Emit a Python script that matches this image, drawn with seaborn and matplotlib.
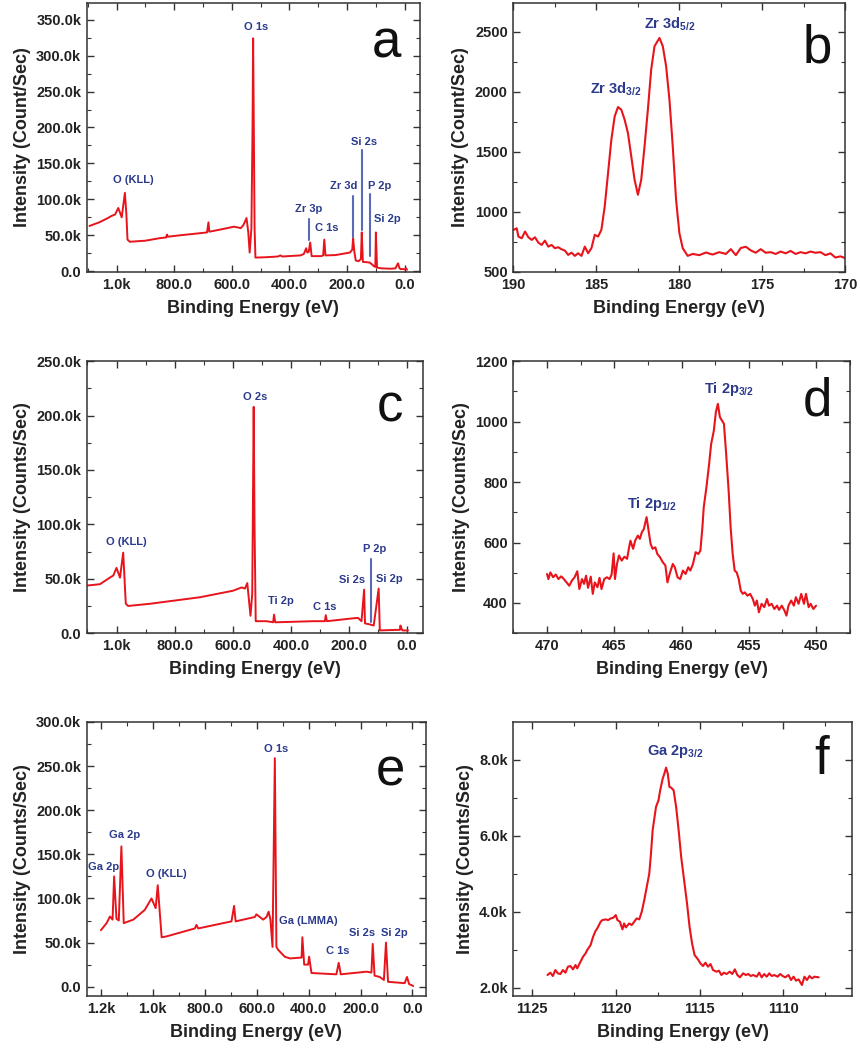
"""
XPS spectra: survey scans (a, c, e) and high-resolution core levels (b, d, f)
"""

import numpy as np
import pandas as pd
import matplotlib
matplotlib.use('Agg')
import matplotlib.pyplot as plt
from matplotlib.ticker import MultipleLocator, AutoMinorLocator, FuncFormatter
import seaborn as sns

# ============================================================
# 0. data
# ============================================================
# (a) survey, Zr sample
a_energy = [1094, 1060, 1030, 1017, 1005, 994, 982, 971, 966, 962, 954, 900, 850, 828, 825,
            822, 780, 720, 686, 681, 678, 640, 592, 569, 560, 549, 543, 538, 532, 528,
            526, 524, 521, 518, 480, 440, 431, 425, 362, 350, 342, 338, 333, 328, 323,
            290, 283, 279, 275, 240, 190, 182, 179, 175, 170, 160, 152, 149, 145, 130,
            121, 112, 107, 102, 100, 96, 80, 50, 32, 26, 23, 19, 15, 5, 0, -5, -8]
a_counts = [63, 68, 74, 77, 79, 88, 75, 109, 80, 44, 41, 42.5, 46, 47, 51,
            48, 50, 52.5, 54, 68, 55, 58, 62, 60, 64, 74, 55, 26, 60, 200,
            324, 220, 60, 19, 19.5, 20.5, 22, 20.5, 22, 24, 32, 26, 27, 40, 21,
            21, 22, 44, 22, 22.5, 26, 30, 46, 28, 15, 14, 17, 54, 13, 12.5,
            12, 9, 7, 6, 54, 5, 4, 3.5, 4, 9, 11, 5, 3, 3, 2.5, 4, 2]
a_counts = [v * 1000 for v in a_counts]

# (b) Zr 3d
b_energy = [190.0, 189.8, 189.7, 189.5, 189.3, 189.1, 188.9, 188.7, 188.5, 188.3, 188.1, 187.9,
            187.7, 187.5, 187.3, 187.1, 186.9, 186.7, 186.5, 186.3, 186.1, 185.9, 185.7, 185.5,
            185.3, 185.1, 184.9, 184.7, 184.5, 184.3, 184.1, 183.9, 183.7, 183.5, 183.3, 183.1,
            182.9, 182.7, 182.5, 182.3, 182.1, 181.9, 181.7, 181.5, 181.2, 181.0, 180.8, 180.6,
            180.4, 180.2, 180.0, 179.8, 179.5, 179.2, 178.8, 178.4, 178.0, 177.6, 177.2, 176.9,
            176.6, 176.3, 176.0, 175.7, 175.4, 175.1, 174.8, 174.5, 174.2, 173.9, 173.6, 173.3,
            173.0, 172.7, 172.4, 172.1, 171.8, 171.5, 171.2, 170.9, 170.6, 170.3, 170.0]
b_counts = [850, 864, 795, 781, 837, 789, 767, 789, 745, 725, 761, 711,
            725, 698, 706, 689, 678, 642, 661, 634, 656, 634, 711, 656,
            698, 809, 795, 851, 1045, 1323, 1602, 1796, 1874, 1852, 1769, 1657,
            1463, 1268, 1143, 1268, 1546, 1852, 2186, 2381, 2450, 2381, 2214, 1936,
            1546, 1101, 823, 698, 634, 650, 640, 662, 645, 665, 650, 690,
            640, 700, 710, 680, 660, 690, 660, 665, 650, 670, 655, 675,
            650, 665, 655, 670, 660, 665, 640, 655, 620, 630, 615]

# (c) survey, Ti sample
c_energy = [1100, 1057, 1023, 1011, 1000, 988, 977, 968, 960, 885, 713, 599, 570, 558,
            550, 539, 533, 528, 525, 521, 484, 461, 458, 454, 450, 323, 283, 280, 276,
            180, 169, 157, 148, 145, 128, 115, 98, 94, 40, 25, 23, 19, 16, -3]
c_counts = [43.8, 45, 51, 53, 60, 51, 74, 27, 25, 27, 33, 39, 42, 41,
            46, 16, 36, 208, 97, 11, 11, 10, 17, 10, 10, 11, 11, 16.5, 11,
            13.8, 14, 11, 40, 9, 8, 7, 41, 2.5, 3, 3, 7, 4, 2.5, 2.5]
c_counts = [v * 1000 for v in c_counts]

# (d) Ti 2p
d_energy = [470.0, 469.9, 469.75, 469.55, 469.35, 469.15, 468.95, 468.75, 468.55, 468.35,
            468.15, 467.95, 467.75, 467.6, 467.4, 467.25, 467.1, 466.95, 466.75, 466.6,
            466.45, 466.25, 466.1, 465.95, 465.75, 465.55, 465.35, 465.2, 465.05, 464.95,
            464.8, 464.65, 464.45, 464.25, 464.05, 463.9, 463.8, 463.6, 463.45, 463.25,
            463.1, 462.95, 462.8, 462.6, 462.45, 462.3, 462.15, 461.95, 461.8, 461.6,
            461.4, 461.2, 461.05, 460.85, 460.65, 460.5, 460.3, 460.1, 459.9, 459.7,
            459.5, 459.35, 459.15, 458.95, 458.75, 458.6, 458.45, 458.35, 458.15, 457.95,
            457.8, 457.6, 457.45, 457.3, 457.15, 457.0, 456.85, 456.7, 456.5, 456.35,
            456.2, 456.05, 455.9, 455.75, 455.6, 455.45, 455.3, 455.1, 454.9, 454.7,
            454.55, 454.4, 454.25, 454.05, 453.85, 453.65, 453.5, 453.3, 453.1, 452.9,
            452.75, 452.55, 452.35, 452.2, 452.05, 451.85, 451.65, 451.5, 451.3, 451.1,
            450.9, 450.75, 450.55, 450.4, 450.2, 450.0]
d_counts = [496, 479, 501, 485, 494, 479, 488, 479, 468, 457,
            474, 485, 505, 446, 479, 463, 490, 450, 487, 430,
            468, 452, 483, 446, 479, 485, 479, 494, 564, 479,
            529, 557, 540, 553, 546, 584, 606, 579, 606, 623,
            612, 634, 645, 684, 639, 595, 579, 584, 562, 551,
            535, 524, 468, 501, 529, 518, 485, 479, 507, 496,
            518, 507, 529, 568, 562, 573, 650, 717, 783, 860,
            926, 970, 1031, 1059, 1015, 1004, 993, 904, 772, 650,
            562, 507, 501, 479, 441, 430, 435, 424, 430, 413,
            391, 408, 369, 397, 386, 413, 391, 397, 380, 391,
            377, 391, 375, 358, 391, 408, 391, 419, 397, 430,
            397, 430, 386, 397, 380, 391]

# (e) survey, Ga sample
e_energy = [1200, 1178, 1165, 1155, 1149, 1140, 1131, 1121, 1112, 1075, 1031, 1005, 989, 981,
            966, 947, 838, 832, 825, 697, 687, 681, 607, 601, 575, 562, 554, 547, 539, 530,
            524, 517, 492, 472, 427, 424, 417, 402, 398, 389, 293, 284, 276, 177, 158, 153,
            146, 126, 110, 102, 94, 30, 21, 13, -3]
e_counts = [64, 72, 79.5, 76, 125, 77, 75, 159, 72, 76, 87, 100, 89, 115,
            56, 57, 66, 70, 66, 74, 91.6, 74, 79, 82, 76, 79, 85, 76, 45, 259,
            45, 41.7, 34, 32, 33, 56, 25, 25, 34, 15.5, 14, 27, 14, 17, 16, 48.5,
            12.5, 11, 7.6, 50, 5.5, 4, 11, 3, 0.8]
e_counts = [v * 1000 for v in e_counts]

# (f) Ga 2p3/2
f_energy = [1124.07, 1123.9, 1123.75, 1123.6, 1123.45, 1123.3, 1123.15, 1123.0, 1122.85, 1122.7,
            1122.55, 1122.4, 1122.3, 1122.1, 1121.95, 1121.8, 1121.7, 1121.5, 1121.35, 1121.2,
            1121.1, 1120.9, 1120.8, 1120.6, 1120.45, 1120.3, 1120.15, 1120.0, 1119.9, 1119.75,
            1119.6, 1119.5, 1119.4, 1119.2, 1119.05, 1118.9, 1118.75, 1118.6, 1118.45, 1118.3,
            1118.15, 1118.0, 1117.9, 1117.8, 1117.6, 1117.45, 1117.35, 1117.2, 1117.1, 1117.0,
            1116.9, 1116.8, 1116.7, 1116.55, 1116.4, 1116.25, 1116.1, 1115.9, 1115.75, 1115.6,
            1115.45, 1115.3, 1115.1, 1114.95, 1114.8, 1114.65, 1114.5, 1114.35, 1114.2, 1114.0,
            1113.85, 1113.7, 1113.55, 1113.4, 1113.2, 1113.05, 1112.9, 1112.75, 1112.6, 1112.4,
            1112.25, 1112.1, 1111.95, 1111.8, 1111.6, 1111.45, 1111.3, 1111.15, 1111.0, 1110.85,
            1110.7, 1110.55, 1110.35, 1110.2, 1110.05, 1109.9, 1109.7, 1109.55, 1109.4, 1109.25,
            1109.1, 1108.9, 1108.75, 1108.6, 1108.45, 1108.3, 1108.15, 1107.9]
f_counts = [2333, 2394, 2307, 2464, 2377, 2359, 2464, 2394, 2552, 2569,
            2482, 2596, 2508, 2683, 2815, 2902, 2990, 3121, 3340, 3498,
            3559, 3734, 3778, 3796, 3778, 3822, 3839, 3909, 3778, 3734,
            3533, 3690, 3585, 3690, 3647, 3734, 3822, 3796, 3997, 4304,
            4654, 5004, 5530, 6143, 6756, 6931, 7194, 7501, 7632, 7790,
            7632, 7282, 7264, 7194, 6756, 6143, 5442, 4742, 4216, 3603,
            3165, 2858, 2745, 2639, 2569, 2657, 2552, 2622, 2464, 2420,
            2447, 2333, 2394, 2359, 2420, 2359, 2482, 2333, 2272, 2377,
            2333, 2359, 2307, 2333, 2289, 2394, 2272, 2359, 2289, 2377,
            2307, 2333, 2289, 2359, 2307, 2272, 2333, 2201, 2289, 2184,
            2219, 2070, 2289, 2201, 2307, 2245, 2289, 2272]

# peak labels (text, energy, intensity)
a_labels = [('O (KLL)', 942, 127e3), ('O 1s', 517, 340e3), ('Zr 3p', 333, 86e3),
            ('C 1s', 270, 60e3), ('Zr 3d', 213, 118e3), ('Si 2s', 140, 180e3),
            ('P 2p', 88, 118e3), ('Si 2p', 62, 72e3)]
# marker lines (energy, low, high)
a_markers = [(333, 43.5e3, 72e3), (178, 47e3, 105e3), (149, 58e3, 168e3), (121, 21e3, 108e3)]
b_labels = [('Zr 3d$_{3/2}$', 183.8, 2019), ('Zr 3d$_{5/2}$', 180.6, 2561)]
c_labels = [('O (KLL)', 966, 84e3), ('O 2s', 524, 217e3), ('Ti 2p', 436, 30e3),
            ('C 1s', 283, 24e3), ('Si 2s', 191, 49e3), ('P 2p', 111, 77e3),
            ('Si 2p', 60, 50e3)]
c_markers = [(125, 10e3, 68e3)]
d_labels = [('Ti 2p$_{1/2}$', 462.2, 728), ('Ti 2p$_{3/2}$', 456.5, 1108)]
e_labels = [('Ga 2p', 1191, 136e3), ('Ga 2p', 1108, 172e3), ('O (KLL)', 947, 127.6e3),
            ('O 1s', 524, 269e3), ('Ga (LMMA)', 402, 75e3), ('C 1s', 286, 40e3),
            ('Si 2s', 196, 61e3), ('Si 2p', 68, 61e3)]
f_labels = [('Ga 2p$_{3/2}$', 1116.45, 8201)]

# ============================================================
# 1. style
# ============================================================
sns.set_style('ticks')
plt.rcParams['font.family'] = ['Liberation Sans', 'DejaVu Sans']
plt.rcParams['mathtext.fontset'] = 'custom'
plt.rcParams['mathtext.rm'] = 'Liberation Sans:bold'
plt.rcParams['mathtext.bf'] = 'Liberation Sans:bold'
plt.rcParams['mathtext.default'] = 'rm'

RED = '#e8141c'
NAVY = '#2b3a8c'
MARK = '#5a6ab8'


def k_fmt(v, pos):
    if abs(v) >= 1000:
        return f'{v / 1000:.1f}k'
    return f'{v:.1f}'


def int_fmt(v, pos):
    return f'{v:.0f}'


def style_axis(ax, xlim, ylim, xmaj, ymaj, fmt_x, fmt_y, ylabel, letter, letter_pos):
    ax.set_xlim(*xlim)
    ax.set_ylim(*ylim)
    ax.xaxis.set_major_locator(MultipleLocator(xmaj))
    ax.yaxis.set_major_locator(MultipleLocator(ymaj))
    ax.xaxis.set_minor_locator(AutoMinorLocator(2))
    ax.yaxis.set_minor_locator(AutoMinorLocator(2))
    ax.xaxis.set_major_formatter(FuncFormatter(fmt_x))
    ax.yaxis.set_major_formatter(FuncFormatter(fmt_y))
    ax.tick_params(which='both', direction='in', top=True, right=True, color='#333333')
    ax.tick_params(which='major', length=5, width=1.0, labelsize=10.5, pad=4)
    ax.tick_params(which='minor', length=3, width=0.8)
    for lab in ax.get_xticklabels() + ax.get_yticklabels():
        lab.set_fontweight('bold')
        lab.set_color('#222222')
    for sp in ax.spines.values():
        sp.set_color('#333333')
        sp.set_linewidth(1.1)
    ax.set_xlabel('Binding Energy (eV)', fontsize=13, fontweight='bold',
                  color='#222222', labelpad=6)
    ax.set_ylabel(ylabel, fontsize=13, fontweight='bold', color='#222222', labelpad=4)
    ax.text(letter_pos[0], letter_pos[1], letter, transform=ax.transAxes,
            fontsize=38, ha='center', va='center', color='#111111')


def draw(ax, energy, counts, lw=1.5):
    df = pd.DataFrame({'energy': energy, 'counts': counts})
    sns.lineplot(data=df, x='energy', y='counts', ax=ax, color=RED, linewidth=lw,
                 sort=False, estimator=None)


def put_labels(ax, labels, size):
    for txt, x, y in labels:
        ax.text(x, y, txt, ha='center', va='center', fontsize=size,
                fontweight='bold', color=NAVY)


def put_markers(ax, markers):
    for x, lo, hi in markers:
        ax.plot([x, x], [lo, hi], color=MARK, linewidth=1.5)


# ============================================================
# 2. figure
# ============================================================
fig = plt.figure(figsize=(8.6, 10.5), dpi=100)
ax_a = fig.add_axes([0.101, 0.741, 0.387, 0.256])
ax_b = fig.add_axes([0.597, 0.741, 0.386, 0.256])
ax_c = fig.add_axes([0.101, 0.397, 0.391, 0.259])
ax_d = fig.add_axes([0.597, 0.397, 0.391, 0.259])
ax_e = fig.add_axes([0.101, 0.0514, 0.394, 0.261])
ax_f = fig.add_axes([0.597, 0.0514, 0.394, 0.261])

# (a)
draw(ax_a, a_energy, a_counts, lw=1.4)
put_markers(ax_a, a_markers)
put_labels(ax_a, a_labels, 8)
style_axis(ax_a, (1103, -52), (-1000, 373000), 200, 50000, k_fmt, k_fmt,
           'Intensity (Count/Sec)', 'a', (0.90, 0.85))

# (b)
draw(ax_b, b_energy, b_counts)
put_labels(ax_b, b_labels, 10.5)
style_axis(ax_b, (190, 170), (500, 2740), 5, 500, int_fmt, int_fmt,
           'Intensity (Count/Sec)', 'b', (0.915, 0.83))

# (c)
draw(ax_c, c_energy, c_counts, lw=1.4)
put_markers(ax_c, c_markers)
put_labels(ax_c, c_labels, 8)
style_axis(ax_c, (1102, -55), (0, 250000), 200, 50000, k_fmt, k_fmt,
           'Intensity (Counts/Sec)', 'c', (0.90, 0.83))

# (d)
draw(ax_d, d_energy, d_counts)
put_labels(ax_d, d_labels, 10.5)
style_axis(ax_d, (472.5, 447.5), (300, 1200), 5, 200, int_fmt, int_fmt,
           'Intensity (Counts/Sec)', 'd', (0.905, 0.85))

# (e)
draw(ax_e, e_energy, e_counts, lw=1.4)
put_labels(ax_e, e_labels, 8)
style_axis(ax_e, (1254, -51), (-10600, 300000), 200, 50000, k_fmt, k_fmt,
           'Intensity (Counts/Sec)', 'e', (0.895, 0.82))

# (f)
draw(ax_f, f_energy, f_counts)
put_labels(ax_f, f_labels, 10.5)
style_axis(ax_f, (1126.1, 1105.9), (1780, 8990), 5, 2000, int_fmt, k_fmt,
           'Intensity (Counts/Sec)', 'f', (0.91, 0.86))

plt.savefig('out.png', dpi=100)
plt.close()
